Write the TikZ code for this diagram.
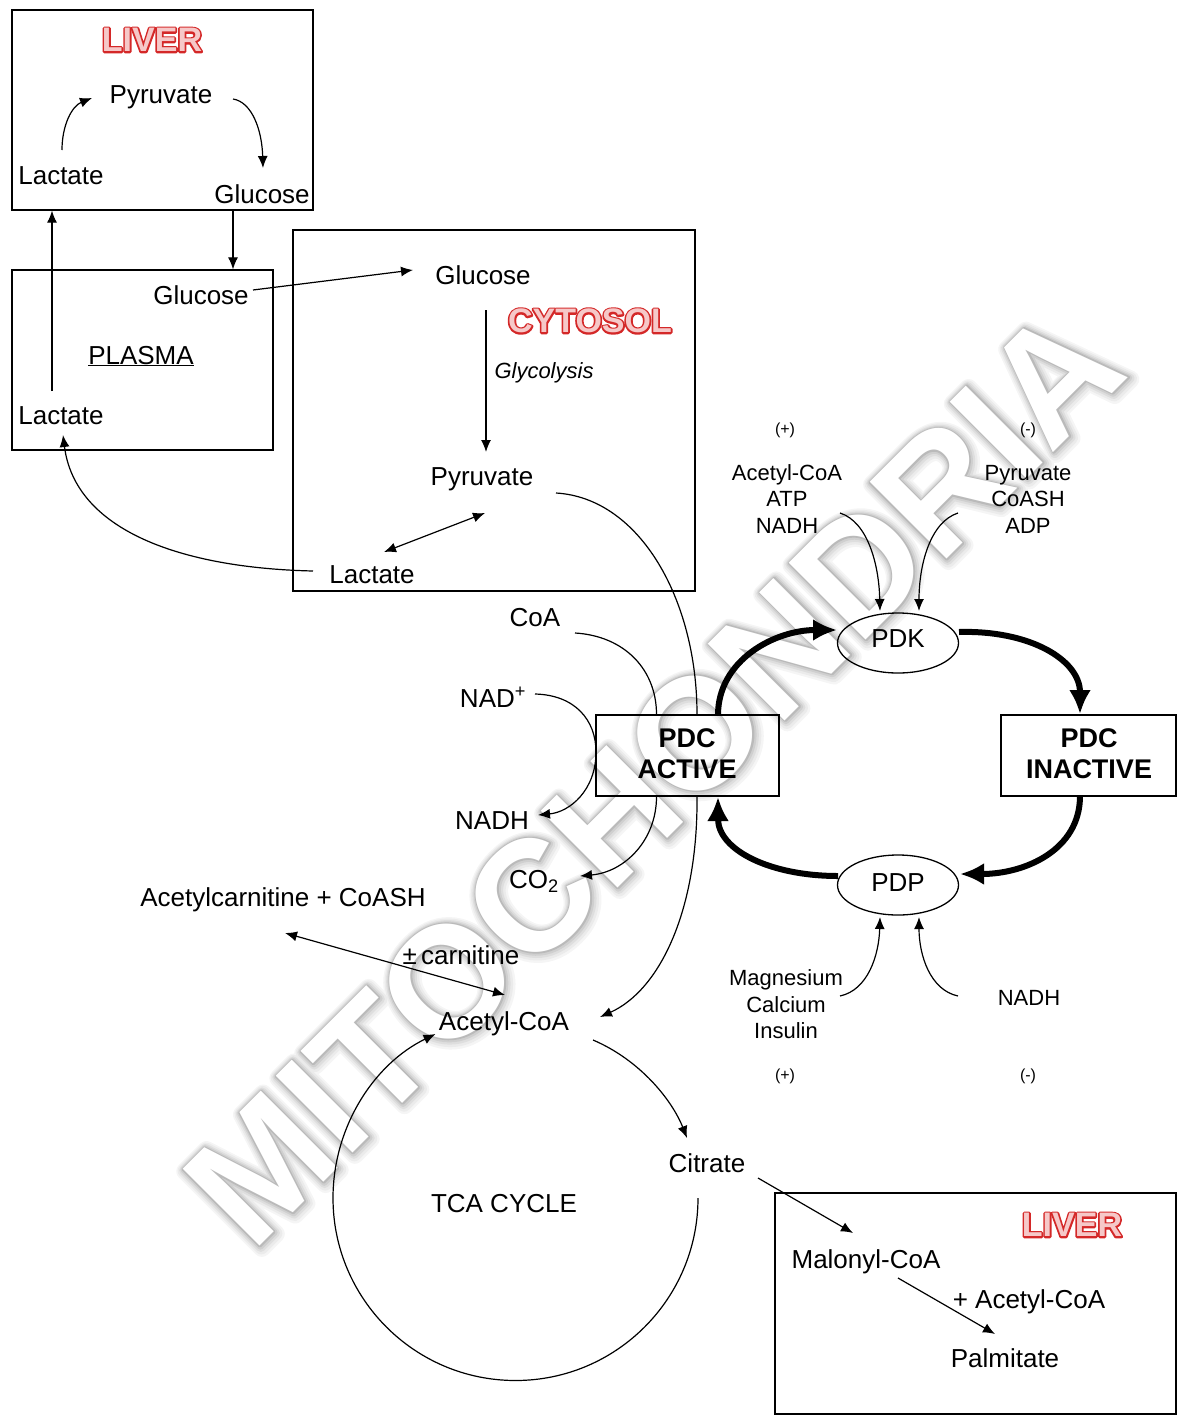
\documentclass[tikz,border=0pt]{standalone}
\usepackage{fontspec}
\setmainfont{Liberation Sans}
\newfontfamily\wmhaloA{Liberation Sans}[FakeBold=11]
\newfontfamily\wmhaloB{Liberation Sans}[FakeBold=8.5]
\newfontfamily\wmhaloC{Liberation Sans}[FakeBold=6]
\newfontfamily\wmhaloD{Liberation Sans}[FakeBold=3.8]
\newfontfamily\wmhaloE{Liberation Sans}[FakeBold=1.8]
\newfontfamily\ttlhalo{Liberation Sans}[FakeBold=10]
\usetikzlibrary{arrows.meta,shapes.geometric}
\definecolor{titlered}{RGB}{212,40,40}
\definecolor{titlefill}{RGB}{246,200,200}
\newcommand{\mkRedTitle}[3]{%
  \node[ttl,text=titlered,line join=round,font=\ttlhalo\bfseries\fontsize{34}{36}\selectfont] (#1-halo) at (#2) {#3};
  \node[ttl,text=titlefill] (#1) at (#2) {#3};}
\begin{document}
\begin{tikzpicture}[x=1pt,y=-1pt,
  lbl/.style={font=\fontsize{26}{28}\selectfont, inner sep=0pt, anchor=base},
  sml/.style={font=\fontsize{22}{24}\selectfont, inner sep=0pt, anchor=base},
  tny/.style={font=\fontsize{16}{18}\selectfont, inner sep=0pt, anchor=base},
  bld/.style={font=\bfseries\fontsize{27}{29}\selectfont, inner sep=0pt, anchor=base},
  ttl/.style={font=\bfseries\fontsize{34}{36}\selectfont, inner sep=0pt},
  wm/.style={rotate=45, anchor=base, inner sep=0pt, line join=round},
  bx/.style={draw, line width=1.3pt, inner sep=0pt},
  enz/.style={draw, ellipse, line width=1.3pt, minimum width=121pt, minimum height=60pt, inner sep=0pt},
  con/.style={line width=1.2pt, -{Latex[length=12pt,width=10pt]}},
  bicon/.style={line width=1.2pt, {Latex[length=12pt,width=10pt]}-{Latex[length=12pt,width=10pt]}},
  ln/.style={line width=1.2pt},
  hvy/.style={line width=6pt, -{Latex[length=24pt,width=22pt]}},
]
\useasboundingbox (0,0) rectangle (1177,1416);

% ---- watermark (soft shadow layers, then white letters) ----
\node[wm, text=black!4,  font=\wmhaloA\bfseries\fontsize{158}{160}\selectfont] (wmA) at (694,816) {MITOCHONDRIA};
\node[wm, text=black!8,  font=\wmhaloB\bfseries\fontsize{158}{160}\selectfont] (wmB) at (693.5,815.5) {MITOCHONDRIA};
\node[wm, text=black!13, font=\wmhaloC\bfseries\fontsize{158}{160}\selectfont] (wmC) at (693,815) {MITOCHONDRIA};
\node[wm, text=black!19, font=\wmhaloD\bfseries\fontsize{158}{160}\selectfont] (wmD) at (692.5,814.5) {MITOCHONDRIA};
\node[wm, text=black!27, font=\wmhaloE\bfseries\fontsize{158}{160}\selectfont] (wmE) at (692,814) {MITOCHONDRIA};
\node[wm, text=white, font=\bfseries\fontsize{158}{160}\selectfont] (wm) at (692,814) {MITOCHONDRIA};

% ---- boxes ----
\node[bx, minimum width=301pt, minimum height=200pt] (liver1) at (162.5,110) {};
\node[bx, minimum width=261pt, minimum height=180pt] (plasma) at (142.5,360) {};
\node[bx, minimum width=402pt, minimum height=361pt] (cytosol) at (494,410.5) {};
\node[bx, minimum width=183pt, minimum height=81pt] (pdca) at (687.5,755.5) {};
\node[bx, minimum width=175pt, minimum height=81pt] (pdci) at (1088.5,755.5) {};
\node[bx, minimum width=401pt, minimum height=221pt] (liver2) at (975.5,1303.5) {};

% ---- titles ----
\mkRedTitle{lvT}{152,40}{LIVER}
\mkRedTitle{cyT}{590,321}{CYTOSOL}
\mkRedTitle{lvB}{1072,1225}{LIVER}

% ---- labels ----
\node[lbl] (lvPyr) at (161,103) {Pyruvate};
\node[lbl] (lvLac) at (61,184) {Lactate};
\node[lbl] (lvGlu) at (262,203) {Glucose};
\node[lbl] (plGlu) at (201,304) {Glucose};
\node[lbl] (plTitle) at (141,364) {\underline{PLASMA}};
\node[lbl] (plLac) at (61,424) {Lactate};
\node[lbl] (cyGlu) at (483,284) {Glucose};
\node[sml, font=\itshape\fontsize{22}{24}\selectfont] (glyc) at (544,378) {Glycolysis};
\node[lbl] (cyPyr) at (482,485) {Pyruvate};
\node[lbl] (cyLac) at (372,583) {Lactate};
\node[lbl] (coa) at (535,626) {CoA};
\node[lbl] (nad) at (493,707) {NAD\textsuperscript{+}};
\node[lbl] (nadh) at (492,829) {NADH};
\node[lbl] (co2) at (534,888) {CO\textsubscript{2}};
\node[bld] (pdcaA) at (687,747) {PDC};
\node[bld] (pdcaB) at (687,778) {ACTIVE};
\node[bld] (pdciA) at (1089,747) {PDC};
\node[bld] (pdciB) at (1089,778) {INACTIVE};
\node[enz] (pdk) at (898,643) {};
\node[enz] (pdp) at (898,885) {};
\node[lbl] (pdkT) at (898,647) {PDK};
\node[lbl] (pdpT) at (898,891) {PDP};
\node[tny] (kpos) at (785,434) {(+)};
\node[tny] (kneg) at (1028,434) {(-)};
\node[sml] (ka1) at (787,480) {Acetyl-CoA};
\node[sml] (ka2) at (787,506) {ATP};
\node[sml] (ka3) at (787,533) {NADH};
\node[sml] (kb1) at (1028,480) {Pyruvate};
\node[sml] (kb2) at (1028,506) {CoASH};
\node[sml] (kb3) at (1028,533) {ADP};
\node[sml] (pa1) at (786,985) {Magnesium};
\node[sml] (pa2) at (786,1012) {Calcium};
\node[sml] (pa3) at (786,1038) {Insulin};
\node[sml] (pb1) at (1029,1005) {NADH};
\node[tny] (ppos) at (785,1080) {(+)};
\node[tny] (pneg) at (1028,1080) {(-)};
\node[lbl] (acc) at (283,906) {Acetylcarnitine + CoASH};
\node[lbl] (carn) at (461,964) {±\,carnitine};
\node[lbl] (acoa) at (504,1030) {Acetyl-CoA};
\node[lbl] (tca) at (504,1212) {TCA CYCLE};
\node[lbl] (cit) at (707,1172) {Citrate};
\node[lbl] (mal) at (866,1268) {Malonyl-CoA};
\node[lbl] (pacoa) at (1029,1308) {+ Acetyl-CoA};
\node[lbl] (palm) at (1005,1367) {Palmitate};

% ---- connector end points ----
\coordinate (gx) at (233,0);
\coordinate (lx) at (52,0);
\coordinate (a1) at (62,150);  \coordinate (a2) at (92,98);
\coordinate (b1) at (233,99);  \coordinate (b2) at (263,168);
\coordinate (lx1) at (52,391);
\coordinate (g1) at (253,290); \coordinate (g2) at (413,270);
\coordinate (l1) at (313,571); \coordinate (l2) at (63,435);
\coordinate (y1) at (486,310); \coordinate (y2) at (486,452);
\coordinate (pl1) at (384,552); \coordinate (pl2) at (485,513);
\coordinate (p1) at (556,493); \coordinate (p2) at (600,1017);
\coordinate (px) at (697,0);
\coordinate (cx) at (656.5,0);
\coordinate (c1) at (575,633); \coordinate (c2) at (580,876);
\coordinate (n1) at (535,694); \coordinate (n2) at (538,815);
\coordinate (r1) at (840,513); \coordinate (r2) at (958,513);
\coordinate (s1) at (840,996); \coordinate (s2) at (958,996);
\coordinate (e1) at (285,933); \coordinate (e2) at (505,995);
\coordinate (t1) at (698,1198);
\coordinate (ac1) at (593,1040); \coordinate (ac2) at (687,1138);
\coordinate (m1) at (758,1178); \coordinate (m2) at (853,1233);
\coordinate (m3) at (898,1278); \coordinate (m4) at (995,1334);

% ---- liver / plasma / cytosol connectors ----
\draw[con] (a1) .. controls (62,125) and (72,106) .. (a2);
\draw[con] (b1) .. controls (252,102) and (262,130) .. (b2);
\draw[con] (liver1.south -| gx) -- (plasma.north -| gx);
\draw[con] (lx1) -- (liver1.south -| lx);
\draw[con] (g1) -- (g2);
\draw[con] (l1) .. controls (180,568) and (75,530) .. (l2);
\draw[con] (y1) -- (y2);
\draw[bicon] (pl1) -- (pl2);

% ---- mitochondria connectors ----
\draw[ln] (p1) .. controls (640,498) and (697,600) .. (pdca.north -| px);
\draw[con] (pdca.south -| px) .. controls (698,910) and (660,990) .. (p2);
\draw[ln] (c1) .. controls (625,636) and (656.5,670) .. (pdca.north -| cx);
\draw[con] (pdca.south -| cx) .. controls (656.5,840) and (625,872) .. (c2);
\draw[con] (n1) .. controls (575,695) and (596,720) .. (596,752) .. controls (596,790) and (570,812) .. (n2);

\draw[hvy] (718,715) .. controls (718,660) and (775,630) .. (837,630);
\draw[hvy] (959,632) .. controls (1030,630) and (1080,660) .. (1080,714);
\draw[hvy] (1080,796) .. controls (1080,850) and (1025,874) .. (960,874);
\draw[hvy] (838,876) .. controls (770,876) and (718,850) .. (718,797);

\draw[con] (r1) .. controls (868,522) and (879,565) .. (880,611);
\draw[con] (r2) .. controls (930,522) and (919,565) .. (919,611);
\draw[con] (s1) .. controls (868,990) and (879,955) .. (880,917);
\draw[con] (s2) .. controls (930,990) and (919,955) .. (919,917);

\draw[bicon] (e1) -- (e2);
\draw[con] (t1) arc[start angle=0, end angle=-244, radius=182.5pt];
\draw[con] (ac1) .. controls (640,1060) and (672,1100) .. (ac2);
\draw[con] (m1) -- (m2);
\draw[con] (m3) -- (m4);
\end{tikzpicture}
\end{document}
